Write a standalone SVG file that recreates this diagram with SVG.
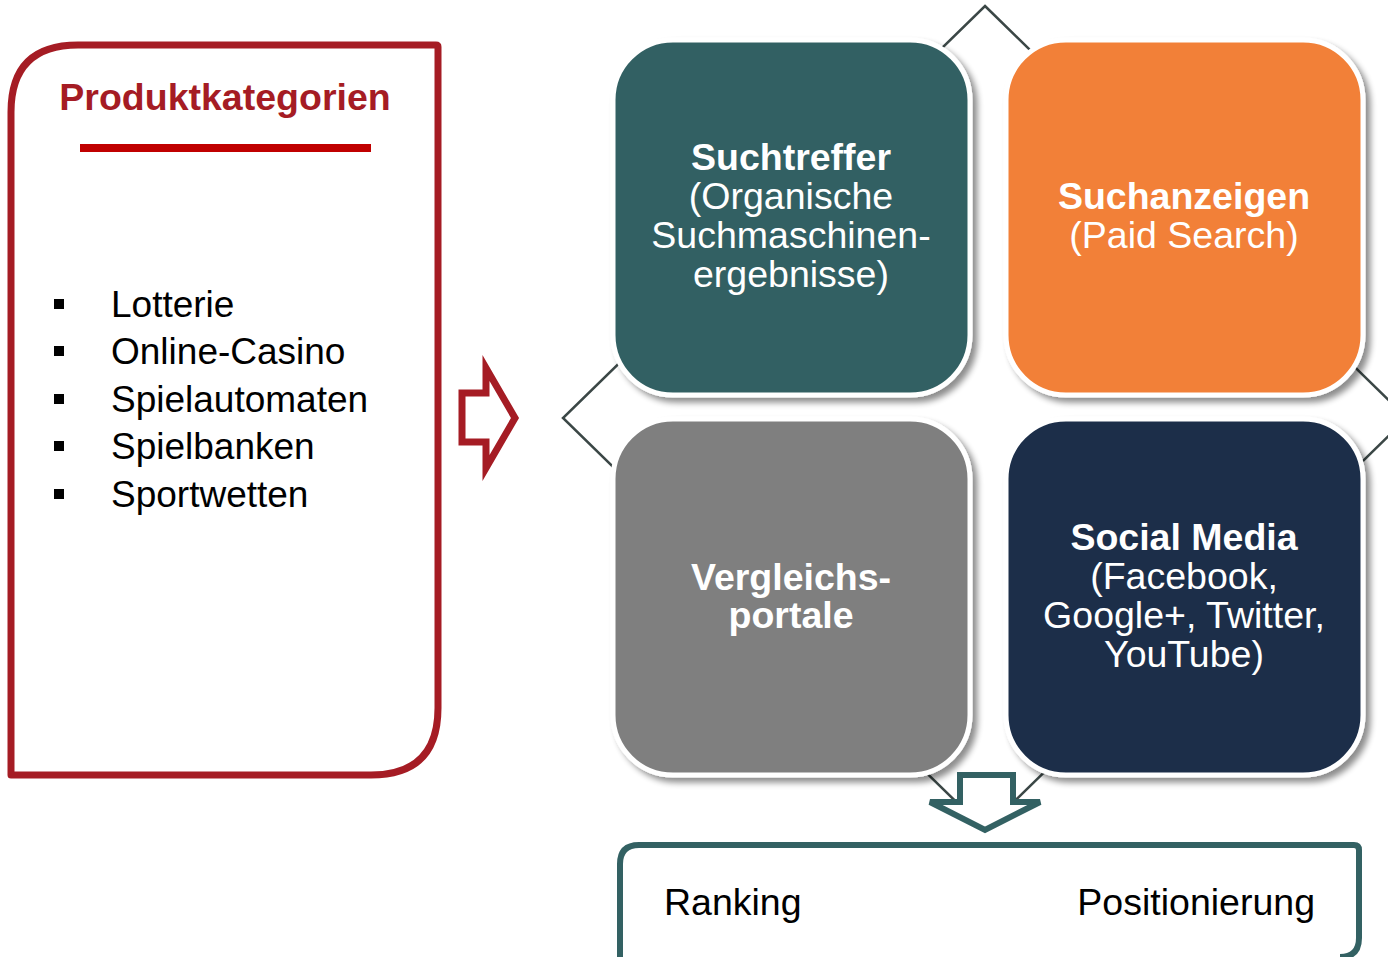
<svg xmlns="http://www.w3.org/2000/svg" width="1388" height="957" viewBox="0 0 1388 957">
<defs>
<filter id="sh" x="-10%" y="-10%" width="130%" height="130%">
<feGaussianBlur in="SourceAlpha" stdDeviation="3"/>
<feOffset dx="5" dy="5" result="b"/>
<feComponentTransfer><feFuncA type="linear" slope="0.45"/></feComponentTransfer>
<feMerge><feMergeNode/><feMergeNode in="SourceGraphic"/></feMerge>
</filter>
<style>
text{font-family:"Liberation Sans",Arial,sans-serif}
.tile{stroke:#ffffff;stroke-width:5}
.tt{fill:#ffffff;font-size:37.5px;text-anchor:middle}
.b{font-weight:bold}
.item{font-size:37px;fill:#000}
.conn{fill:none;stroke:#3b4746;stroke-width:2.5}
</style>
</defs>
<rect width="1388" height="957" fill="#ffffff"/>
<g id="connectors">
<polygon class="conn" points="985,6 1407,418 985,830 563,418"/>
</g>
<g id="produktkategorien">
<path d="M11,775 L11,112 Q11,45 78,45 L436,45 Q438,45 438,47 L438,708 Q438,775 371,775 Z" fill="none" stroke="#a51c24" stroke-width="7" stroke-linejoin="round"/>
<text x="225" y="110" text-anchor="middle" font-size="37.5" font-weight="bold" fill="#a51c24">Produktkategorien</text>
<rect x="80" y="144" width="291" height="8" fill="#c00000"/>
<g fill="#000">
<rect x="54" y="299" width="10" height="10"/>
<rect x="54" y="346" width="10" height="10"/>
<rect x="54" y="394" width="10" height="10"/>
<rect x="54" y="441" width="10" height="10"/>
<rect x="54" y="489" width="10" height="10"/>
</g>
<text class="item" x="111" y="317">Lotterie</text>
<text class="item" x="111" y="364">Online-Casino</text>
<text class="item" x="111" y="412">Spielautomaten</text>
<text class="item" x="111" y="459">Spielbanken</text>
<text class="item" x="111" y="507">Sportwetten</text>
</g>
<g id="arrow-right">
<polygon points="462,393 486,393 486,368 515,418 486,468 486,442 462,442" fill="none" stroke="#a51c24" stroke-width="7" stroke-linejoin="miter"/>
</g>
<g id="suchtreffer">
<rect class="tile" x="613" y="40" width="357" height="355" rx="60" fill="#336163" filter="url(#sh)"/>
<text class="tt b" x="791" y="170">Suchtreffer</text>
<text class="tt" x="791" y="209">(Organische</text>
<text class="tt" x="791" y="248">Suchmaschinen-</text>
<text class="tt" x="791" y="287">ergebnisse)</text>
</g>
<g id="suchanzeigen">
<rect class="tile" x="1006" y="40" width="357" height="355" rx="60" fill="#f28037" filter="url(#sh)"/>
<text class="tt b" x="1184" y="209">Suchanzeigen</text>
<text class="tt" x="1184" y="248">(Paid Search)</text>
</g>
<g id="vergleichsportale">
<rect class="tile" x="613" y="419" width="357" height="356" rx="60" fill="#7f7f7f" filter="url(#sh)"/>
<text class="tt b" x="791" y="590">Vergleichs-</text>
<text class="tt b" x="791" y="628">portale</text>
</g>
<g id="socialmedia">
<rect class="tile" x="1006" y="419" width="357" height="356" rx="60" fill="#1c2f4a" filter="url(#sh)"/>
<text class="tt b" x="1184" y="550">Social Media</text>
<text class="tt" x="1184" y="589">(Facebook,</text>
<text class="tt" x="1184" y="628">Google+, Twitter,</text>
<text class="tt" x="1184" y="667">YouTube)</text>
</g>
<g id="arrow-down">
<polygon points="960,775 1013,775 1013,802 1040,802 985,830 930,802 960,802" fill="#ffffff" stroke="#336163" stroke-width="6" stroke-linejoin="miter"/>
</g>
<g id="ranking">
<path d="M620,962 L620,864 Q620,845 639,845 L1354,845 Q1359,845 1359,850 L1359,938 Q1359,957 1340,957" fill="none" stroke="#336163" stroke-width="6"/>
<text x="664" y="915" font-size="37.5" fill="#000">Ranking</text>
<text x="1315" y="915" font-size="37.5" fill="#000" text-anchor="end">Positionierung</text>
</g>
</svg>
